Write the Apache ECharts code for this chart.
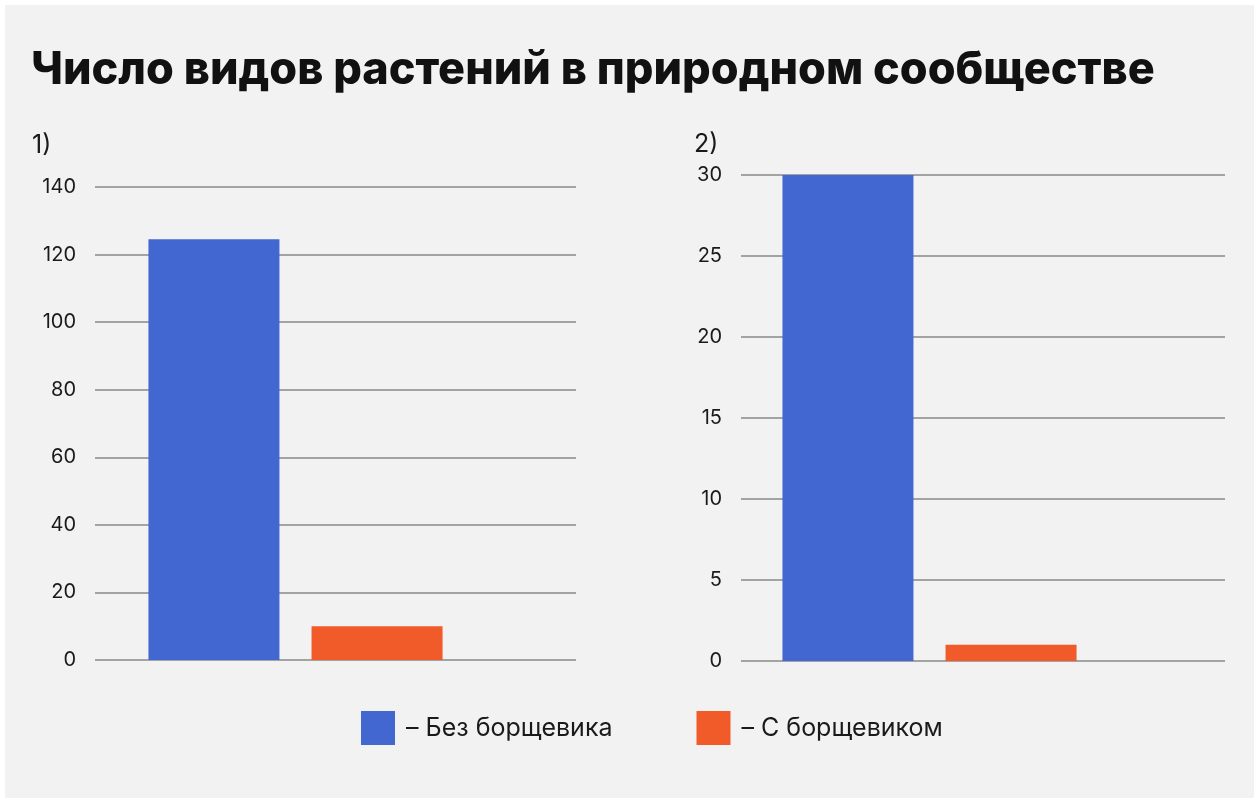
<!DOCTYPE html>
<html>
<head>
<meta charset="utf-8">
<script src="https://cdn.jsdelivr.net/npm/echarts@6/dist/echarts.min.js"></script>
<style>
	html, body { margin: 0; padding: 0; background: #fff; }
	#chart { width: 1259px; height: 803px; background: #f2f2f2; box-shadow: inset 0 0 0 5px #fff; }
</style>
</head>
<body>
<div id="chart"></div>
<script>
// data
var seriesNames = ['Без борщевика', 'С борщевиком'];
var seriesColors = ['#4367d1', '#f15a29'];
var panel1Values = [124.5, 10];	// 1) число видов
var panel2Values = [30, 1];		// 2)
var panel1Axis = { max: 140, interval: 20 };
var panel2Axis = { max: 30, interval: 5 };

var FONT = 'Inter, "Noto Sans", sans-serif';
var gridColor = '#a3a3a3';

// one grid just for the gridlines + labels, another one for the bars
function gridAxis(pIndex, pAxis) {
	return {
		type: 'value', gridIndex: pIndex, min: 0, max: pAxis.max, interval: pAxis.interval,
		axisLine: { show: false }, axisTick: { show: false },
		axisLabel: { fontFamily: FONT, fontSize: 20, color: '#1a1a1a', margin: 19 },
		splitLine: { lineStyle: { color: gridColor, width: 2 } }
	};
}
function barAxis(pIndex, pAxis) {
	return {
		type: 'value', gridIndex: pIndex, min: 0, max: pAxis.max, interval: pAxis.interval,
		show: false, splitLine: { show: false }
	};
}
function catAxis(pIndex) {
	return { type: 'category', gridIndex: pIndex, data: [''], show: false };
}
function barSeries(pName, pColor, pValue, pAxisIndex) {
	return {
		type: 'bar', name: pName, xAxisIndex: pAxisIndex, yAxisIndex: pAxisIndex,
		data: [pValue], barWidth: 131, barGap: '24.5%',
		itemStyle: { color: pColor }, z: 3
	};
}

var chart = echarts.init(document.getElementById('chart'));
chart.setOption({
	animation: false,
	title: [
		{ text: 'Число видов растений в природном сообществе', left: 26, top: 43,
			textStyle: { fontFamily: FONT, fontSize: 45, fontWeight: 800, color: '#111' } },
		{ text: '1)', left: 27, top: 128, textStyle: { fontFamily: FONT, fontSize: 25, fontWeight: 'normal', color: '#1a1a1a' } },
		{ text: '2)', left: 689, top: 127, textStyle: { fontFamily: FONT, fontSize: 25, fontWeight: 'normal', color: '#1a1a1a' } }
	],
	legend: {
		data: seriesNames, left: 361, top: 711, padding: 0, icon: 'rect', itemWidth: 34, itemHeight: 34, itemGap: 84,
		formatter: '– {name}',
		textStyle: { fontFamily: FONT, fontSize: 25, color: '#1a1a1a', padding: [0, 0, 0, 6] }
	},
	grid: [
		{ left: 95, top: 187, width: 481, height: 473 },
		{ left: 96, top: 187, width: 399, height: 473 },
		{ left: 741, top: 175, width: 484, height: 486 },
		{ left: 741, top: 175, width: 377, height: 486 }
	],
	xAxis: [catAxis(0), catAxis(1), catAxis(2), catAxis(3)],
	yAxis: [gridAxis(0, panel1Axis), barAxis(1, panel1Axis), gridAxis(2, panel2Axis), barAxis(3, panel2Axis)],
	series: [
		barSeries(seriesNames[0], seriesColors[0], panel1Values[0], 1),
		barSeries(seriesNames[1], seriesColors[1], panel1Values[1], 1),
		barSeries(seriesNames[0], seriesColors[0], panel2Values[0], 3),
		barSeries(seriesNames[1], seriesColors[1], panel2Values[1], 3)
	]
});
</script>
</body>
</html>
